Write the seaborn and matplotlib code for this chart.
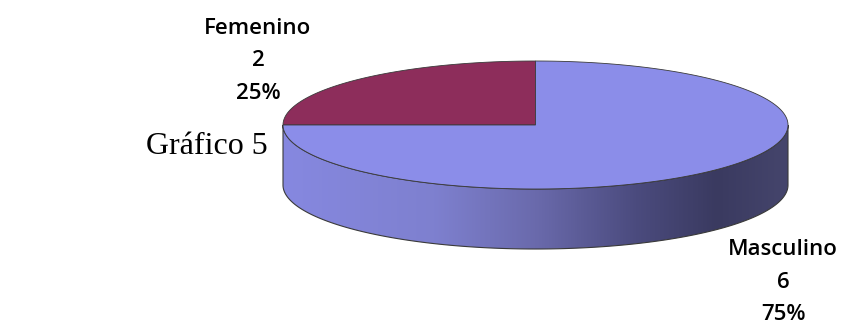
import numpy as np
import matplotlib
matplotlib.use("Agg")
import matplotlib.pyplot as plt
from matplotlib.patches import Polygon
from matplotlib.colors import LinearSegmentedColormap
import seaborn as sns

# datos del gráfico
categorias = ["Femenino", "Masculino"]
valores = [2, 6]
colores = ["#8D2D5B", "#8B8DE9"]
titulo = "Gráfico 5"

sns.set_style("white")
plt.rcParams["font.family"] = ["Open Sans", "DejaVu Sans"]

fig = plt.figure(figsize=(8.43, 3.24), dpi=100)
ax = fig.add_axes([0, 0, 1, 1])

# geometría del pastel 3D (coordenadas tipo pixel, y hacia abajo)
cx, cy = 535.5, 125
rx, ry = 252.5, 64
prof = 60

def elipse(t, dy=0):
    return cx + rx * np.cos(t), cy - ry * np.sin(t) + dy

total = sum(valores)
pct = [v / total for v in valores]

# lateral frontal (todo pertenece a Masculino)
t = np.linspace(np.pi, 2 * np.pi, 300)
xs, ys = elipse(t)
xb, yb = elipse(t[::-1], prof)
lado = Polygon(np.column_stack([np.r_[xs, xb], np.r_[ys, yb]]), closed=True,
               facecolor="none", edgecolor="#3a3a3a", lw=0.8, zorder=3)
ax.add_patch(lado)
cmap = LinearSegmentedColormap.from_list("lado", [
    (0.0, "#8688E0"), (0.3, "#7E80CF"), (0.5, "#6A6AAC"),
    (0.7, "#4B4B7E"), (0.86, "#3A3A60"), (1.0, "#45456C")])
grad = np.linspace(0, 1, 256)[None, :]
img = ax.imshow(grad, cmap=cmap, aspect="auto",
                extent=(cx - rx, cx + rx, cy + ry + prof, cy), zorder=2)
img.set_clip_path(lado)

# tapa superior: rebanadas desde las 12 en sentido antihorario
inicio = np.pi / 2
for nombre, p, col in zip(categorias, pct, colores):
    fin = inicio + 2 * np.pi * p
    tt = np.linspace(inicio, fin, 300)
    ex, ey = elipse(tt)
    ax.fill(np.r_[cx, ex, cx], np.r_[cy, ey, cy], color=col,
            ec="#3a3a3a", lw=0.6, zorder=4)
    inicio = fin

# etiquetas
pos_etq = [(258, 61), (783, 282)]
for nombre, v, p, (lx, ly) in zip(categorias, valores, pct, pos_etq):
    ax.text(lx, ly, f"{nombre}\n{v}\n{p:.0%}", ha="center", va="center",
            fontsize=16, fontweight="semibold", linespacing=1.72,
            color="black", zorder=5)

ax.text(207, 146, titulo, ha="center", va="center", fontsize=23,
        family=["Liberation Serif", "DejaVu Serif"], color="black")

ax.set_xlim(0, 843)
ax.set_ylim(324, 0)
ax.axis("off")

fig.savefig("out.png", dpi=100)
